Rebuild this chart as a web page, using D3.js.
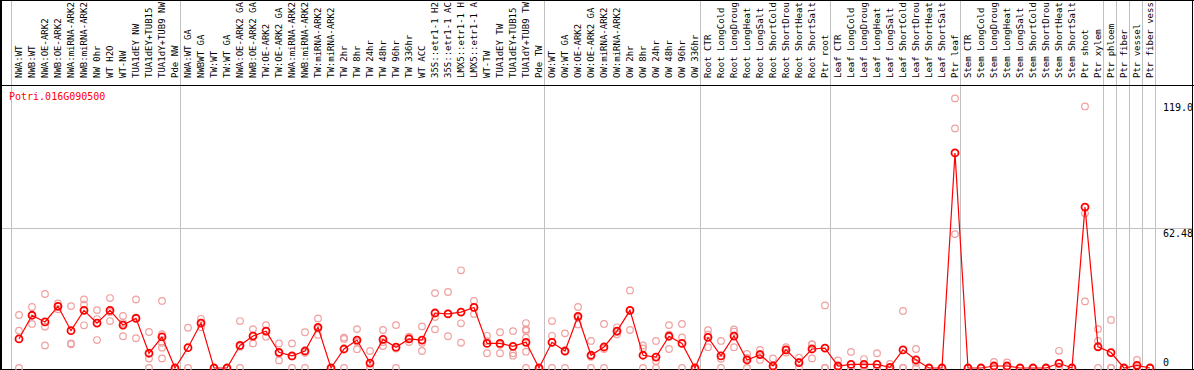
<!DOCTYPE html>
<html><head><meta charset="utf-8">
<script src="https://cdn.jsdelivr.net/npm/d3@7"></script>
<style>body{margin:0;background:#fff}svg{display:block}</style>
</head><body>
<svg id="chart" width="1194" height="370"></svg>
<script>
const title = "Potri.016G090500";
const categories = [
"NWA:WT","NWB:WT","NWA:OE-ARK2","NWB:OE-ARK2","NWA:miRNA-ARK2","NWB:miRNA-ARK2","NW 0hr","WT H2O","WT-NW","TUA1dEY NW","TUA1dEY+TUB15","TUA1dY+TUB9 NW","Pde NW",
"NWA:WT GA","NWBWT GA","TW:WT","TW:WT GA","NWA:OE-ARK2 GA","NWB:OE-ARK2 GA","TW:OE-ARK2","TW:OE-ARK2 GA","NWA:miRNA-ARK2","NWB:miRNA-ARK2","TW:miRNA-ARK2","TW:miRNA-ARK2","TW 2hr","TW 8hr","TW 24hr","TW 48hr","TW 96hr","TW 336hr","WT ACC","35S::etr1-1 H2","35S::etr1-1 AC","LMX5::etr1-1 H","LMX5::etr1-1 A","WT-TW","TUA1dEY TW","TUA1dEY+TUB15","TUA1dY+TUB9 TW","Pde TW",
"OW:WT","OW:WT GA","OW:OE-ARK2","OW:OE-ARK2 GA","OW:miRNA-ARK2","OW:miRNA-ARK2","OW 2hr","OW 8hr","OW 24hr","OW 48hr","OW 96hr","OW 336hr",
"Root CTR","Root LongCold","Root LongDroug","Root LongHeat","Root LongSalt","Root ShortCold","Root ShortDrou","Root ShortHeat","Root ShortSalt","Ptr root",
"Leaf CTR","Leaf LongCold","Leaf LongDroug","Leaf LongHeat","Leaf LongSalt","Leaf ShortCold","Leaf ShortDrou","Leaf ShortHeat","Leaf ShortSalt","Ptr leaf",
"Stem CTR","Stem LongCold","Stem LongDroug","Stem LongHeat","Stem LongSalt","Stem ShortCold","Stem ShortDrou","Stem ShortHeat","Stem ShortSalt","Ptr shoot","Ptr xylem",
"Ptr phloem","Ptr fiber","Ptr vessel","Ptr fiber vess"
];
const means = [
13.0,23.6,20.6,27.6,16.7,25.8,20.1,25.8,19.2,22.2,6.6,13.9,0,
9.1,20.1,0,0,10.1,14.3,16.5,7.0,5.4,7.6,18.2,0,8.5,12.5,2.2,12.8,9.3,13.0,12.5,24.6,24.2,25.0,27.1,11.0,11.0,9.7,11.5,0,
11.5,7.6,23.1,5.7,9.4,16.5,25.8,5.7,4.9,14.2,11.0,0,
13.7,5.4,14.3,3.6,6.0,0.9,8.1,2.4,8.5,8.9,
0.9,1.6,1.6,1.6,0.3,8.1,3.6,0,0,96.2,
0,0,0.9,0.9,0,0,0,2.1,0,72.0,9.5,
6.9,0,1.2,0
];
const replicates = [
[23.7,16.7,0],[27.3,23.6,19.7],[33.1,18.5,10.1],[28.9,27.6,26.3],[27.7,11.0,10.6],[30.7,28.3,19.1],[25.9,21.9,12.5],[31.3,25.1,21.0],[23.3,20.1,14.2],[30.7,22.6,13.3],[16.1,4.2,0],[30.0,15.1,11.3,9.1,4.3],[0,0,0],
[18.0,0],[22.0,20.1,18.2],[0,0],[0,0],[21.0,9.5,0],[17.4,14.5,11.0],[19.2,16.3,14.0],[11.0,6.6,3.4],[11.0,5.2,0],[16.0,6.8,0],[22.2,17.6,14.8],[0,0],[13.6,13.0,0],[17.4,11.7,8.4],[7.6,0,0],[17.0,11.6,9.8],[19.2,8.7,0],[14.0,13.4,11.6],[18.6,11.3,7.6],[33.5,22.8,17.3],[34.0,24.4,14.2],[43.7,20.0,11.3],[30.0,27.1,24.2],[14.4,12.0,6.6],[16.0,10.4,6.6],[16.5,6.6,5.5],[20.1,17.3,16.7,13.6,7.3,0],[0,0],
[21.0,14.4,0],[15.5,7.3,0],[27.3,22.5,19.5],[12.1,5.0,0],[19.7,8.5,0],[18.2,16.2,15.1],[34.7,25.7,17.0],[10.1,8.8,0],[12.1,3.1,0],[19.2,14.9,8.5],[19.7,13.7,0],[0,0],
[16.9,14.9,9.3],[12.1,4.1,0],[17.3,16.3,9.3],[6.3,4.5,0],[8.1,6.3,3.6],[4.3,0,0],[9.3,8.1,6.9],[4.6,2.6,0],[10.7,10.5,4.3],[28.0,0,0],
[3.4,0,0],[7.2,0,0],[4.0,0.8,0],[6.6,0,0],[1.8,0,0],[25.5,0,0],[8.5,2.3,0],[0,0],[0,0],[120.6,107.2,59.9],
[0,0],[0,0],[2.7,0,0],[2.5,0,0],[0,0],[0,0],[0,0],[7.7,0,0],[0,0],[117.0,69.2,29.8],[17.4,12.1,0],
[21.5,0,0],[0,0],[3.6,0,0],[0,0]
];
const groupBreaks = [0,13,41,53,63,73,84,85,86,87,88];
const tickValues = [0, 62.48, 119.0];
const tickLabels = ["0","62.48","119.0"];

const W = 1194, H = 370;
const svg = d3.select("#chart");
const idx = d3.range(categories.length);
const x = d3.scaleBand().domain(idx).range([11, 1155]).padding(0);
const px = i => x(i) + 8;
const y = d3.scaleLinear().domain([0, 119]).range([368, 102]);
const mono = "'DejaVu Sans Mono', monospace";

// vertical group grid lines
const bx = b => b < categories.length ? x(b) : x.range()[1];
svg.append("g").selectAll("line").data(groupBreaks).join("line")
  .attr("x1", b => Math.round(bx(b)) + 0.5).attr("x2", b => Math.round(bx(b)) + 0.5)
  .attr("y1", 0).attr("y2", 369)
  .attr("stroke", "#c0c0c0").attr("stroke-width", 1);

// horizontal grid line at middle tick
svg.append("line")
  .attr("x1", 0).attr("x2", 1192)
  .attr("y1", Math.round(y(tickValues[1])) + 0.5).attr("y2", Math.round(y(tickValues[1])) + 0.5)
  .attr("stroke", "#c0c0c0").attr("stroke-width", 1);

// category labels
svg.append("g").selectAll("text").data(idx).join("text")
  .attr("transform", i => `translate(${px(i) + 3},78) rotate(-90)`)
  .attr("font-family", mono).attr("font-size", 9).attr("fill", "#000")
  .text(i => categories[i]);

// frame lines
const frame = svg.append("g").attr("stroke", "#000").attr("stroke-width", 1);
frame.append("line").attr("x1", 0).attr("x2", W).attr("y1", 0.5).attr("y2", 0.5);
frame.append("line").attr("x1", 0).attr("x2", W).attr("y1", 85.5).attr("y2", 85.5);
frame.append("line").attr("x1", 0).attr("x2", W).attr("y1", 369.5).attr("y2", 369.5);
frame.append("line").attr("x1", 1).attr("x2", 1).attr("y1", 0).attr("y2", H).attr("stroke-width", 2);
frame.append("line").attr("x1", 1192.5).attr("x2", 1192.5).attr("y1", 0).attr("y2", H);

// title
svg.append("text").attr("x", 9).attr("y", 100)
  .attr("font-family", mono).attr("font-size", 10).attr("fill", "#ff0000")
  .text(title);

// right axis labels
svg.append("g").selectAll("text").data(tickValues).join("text")
  .attr("x", 1163).attr("y", v => Math.min(y(v) + 8.5, 366))
  .attr("font-family", mono).attr("font-size", 10).attr("fill", "#000")
  .text((v, k) => tickLabels[k]);

// replicate circles
const repPts = [];
replicates.forEach((arr, i) => arr.forEach(v => repPts.push([i, v])));
svg.append("g").selectAll("circle").data(repPts).join("circle")
  .attr("cx", d => px(d[0])).attr("cy", d => y(d[1])).attr("r", 3.3)
  .attr("fill", "none").attr("stroke", "#f0a0a0").attr("stroke-width", 1.2);

// mean line
svg.append("path").datum(idx)
  .attr("d", d3.line().x(i => px(i)).y(i => y(means[i])))
  .attr("fill", "none").attr("stroke", "#ff0000").attr("stroke-width", 1.2);

// mean circles
svg.append("g").selectAll("circle").data(idx).join("circle")
  .attr("cx", i => px(i)).attr("cy", i => y(means[i])).attr("r", 3.5)
  .attr("fill", "none").attr("stroke", "#ff0000").attr("stroke-width", 1.8);
</script>
</body></html>
